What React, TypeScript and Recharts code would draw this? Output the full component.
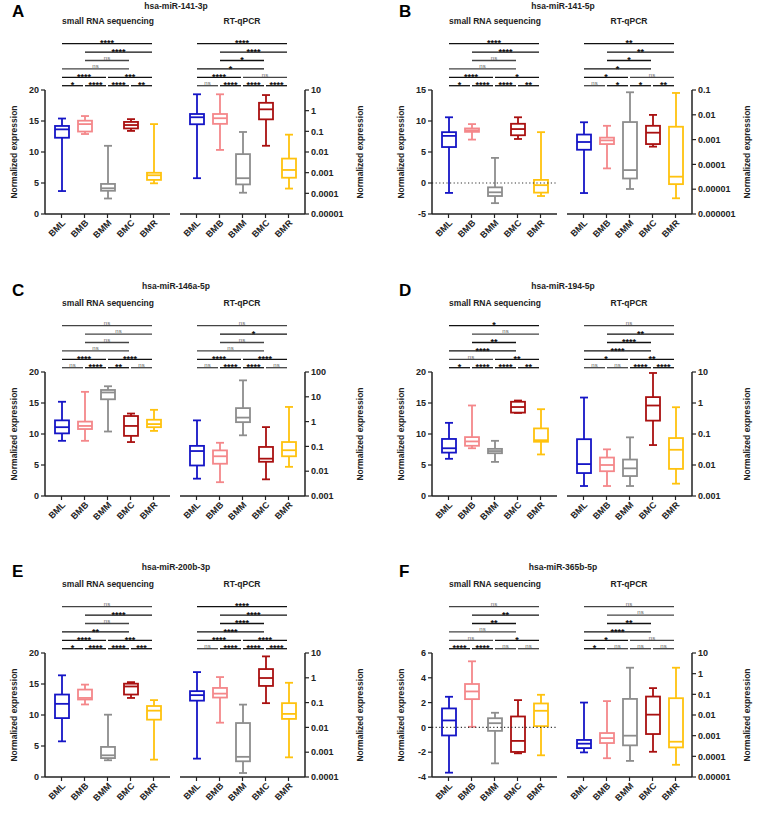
import React from 'react';
import { ComposedChart, Bar, XAxis, YAxis, ReferenceLine } from 'recharts';

const FONT = '"Liberation Sans", Arial, sans-serif';
const INK = '#222';

const categories = ['BML', 'BMB', 'BMM', 'BMC', 'BMR'];
const groupColors = ['#1515C6', '#F4878A', '#8D8D8D', '#A91010', '#FFC20E'];

// box statistics per category: [min, q1, median, q3, max]
const seqA = [[3.7, 12.3, 13.65, 14.2, 15.4], [12.9, 13.3, 14.5, 15.05, 15.8], [2.5, 3.75, 4.15, 4.85, 11.0], [13.4, 13.8, 14.35, 14.85, 15.3], [4.95, 5.5, 6.25, 6.65, 14.5]];
const pcrA = [[0.00054, 0.22, 0.48, 0.69, 6.2], [0.0126, 0.23, 0.43, 0.69, 6.2], [0.000107, 0.00027, 0.00054, 0.0079, 0.093], [0.02, 0.38, 1.16, 2.4, 5.7], [0.00017, 0.00057, 0.00135, 0.0048, 0.069]];
const seqB = [[-1.6, 5.8, 7.6, 8.2, 10.6], [7.0, 8.25, 8.5, 8.8, 9.5], [-3.25, -2.1, -1.5, -0.7, 4.05], [7.1, 7.7, 8.7, 9.55, 10.6], [-2.1, -1.55, -0.35, 0.5, 8.2]];
const pcrB = [[0.000007, 0.00039, 0.0008, 0.0016, 0.005], [0.000069, 0.00066, 0.00093, 0.0012, 0.0036], [0.0000102, 0.000027, 0.000059, 0.0051, 0.081], [0.00052, 0.00066, 0.0019, 0.0036, 0.0099], [0.0000043, 0.000016, 0.000032, 0.0033, 0.076]];
const seqC = [[8.9, 10.1, 11.1, 12.2, 15.2], [8.9, 10.8, 11.3, 12.0, 16.8], [10.4, 15.6, 16.7, 17.1, 17.7], [8.7, 9.7, 11.3, 12.9, 13.3], [10.5, 11.1, 11.6, 12.3, 13.9]];
const pcrC = [[0.005, 0.017, 0.065, 0.105, 1.12], [0.0036, 0.02, 0.04, 0.069, 0.14], [0.28, 0.95, 1.45, 3.5, 46], [0.0047, 0.024, 0.032, 0.095, 0.6], [0.015, 0.04, 0.07, 0.15, 3.9]];
const seqD = [[6.0, 7.0, 7.7, 9.2, 11.8], [7.7, 8.1, 8.8, 9.5, 14.6], [5.5, 6.9, 7.25, 7.6, 8.9], [13.4, 13.45, 14.35, 15.2, 15.4], [6.7, 8.75, 9.0, 10.9, 14.0]];
const pcrD = [[0.0021, 0.0055, 0.0107, 0.068, 1.5], [0.0021, 0.0063, 0.01, 0.0174, 0.032], [0.0021, 0.0044, 0.0078, 0.015, 0.078], [0.044, 0.27, 0.83, 1.55, 9.3], [0.0025, 0.0075, 0.031, 0.074, 0.73]];
const seqE = [[5.75, 9.5, 11.8, 13.3, 16.4], [11.7, 12.5, 12.75, 14.1, 14.9], [2.7, 3.05, 3.5, 4.85, 10.05], [12.75, 13.3, 14.6, 15.05, 15.3], [2.8, 9.25, 10.7, 11.45, 12.4]];
const pcrE = [[0.00055, 0.12, 0.2, 0.29, 1.7], [0.0155, 0.16, 0.23, 0.39, 1.07], [0.000145, 0.00043, 0.00065, 0.015, 0.083], [0.095, 0.47, 0.98, 2.25, 7.3], [0.00062, 0.022, 0.035, 0.095, 0.63]];
const seqF = [[-3.65, -0.65, 0.56, 1.53, 2.47], [0.05, 2.28, 2.9, 3.5, 5.33], [-2.9, -0.28, 0.34, 0.74, 1.18], [-2.09, -1.98, -1.09, 0.88, 2.2], [-2.25, 0.1, 1.34, 1.93, 2.63]];
const pcrF = [[0.000155, 0.00025, 0.00041, 0.00062, 0.04], [0.000081, 0.00044, 0.00076, 0.00134, 0.047], [0.00006, 0.00034, 0.001, 0.06, 1.94], [0.000166, 0.0012, 0.0104, 0.078, 0.2], [0.000039, 0.00027, 0.00051, 0.065, 1.94]];

// axis ticks
const linTicks20 = [0, 5, 10, 15, 20];
const linTicksB = [-5, 0, 5, 10, 15];
const linTicksF = [-4, -2, 0, 2, 4, 6];
const logTicksA = [0.00001, 0.0001, 0.001, 0.01, 0.1, 1, 10];
const logTicksB = [0.000001, 0.00001, 0.0001, 0.001, 0.01, 0.1];
const logTicksC = [0.001, 0.01, 0.1, 1, 10, 100];
const logTicksD = [0.001, 0.01, 0.1, 1, 10];
const logTicksE = [0.0001, 0.001, 0.01, 0.1, 1, 10];

// significance comparisons (pairs of category indices) and bracket rows
const pairs = [[0, 1], [1, 2], [2, 3], [3, 4], [0, 2], [2, 4], [0, 3], [1, 3], [1, 4], [0, 4]];
const pairRows = [0, 0, 0, 0, 1, 1, 2, 3, 4, 5];

const sigSeqA = ['*', '****', '****', '**', '****', '***', 'ns', 'ns', '****', '****'];
const sigPcrA = ['ns', '****', '****', '****', '****', 'ns', '*', '*', '****', '****'];
const sigSeqB = ['*', '****', '****', '**', '****', '*', 'ns', 'ns', '****', '****'];
const sigPcrB = ['ns', '*', '*', '**', '*', 'ns', '*', '*', '**', '**'];
const sigSeqC = ['ns', '****', '**', 'ns', '****', '****', 'ns', 'ns', 'ns', 'ns'];
const sigPcrC = ['ns', '****', '****', 'ns', '****', '****', 'ns', 'ns', '*', 'ns'];
const sigSeqD = ['*', '****', '****', '**', 'ns', '**', '****', '**', 'ns', '*'];
const sigPcrD = ['ns', 'ns', '****', '****', '*', '**', '****', '****', '**', 'ns'];
const sigSeqE = ['*', '****', '****', '***', '****', '***', '**', 'ns', '****', 'ns'];
const sigPcrE = ['ns', '****', '****', '****', '****', '****', '****', '****', '****', '****'];
const sigSeqF = ['****', '****', 'ns', 'ns', 'ns', '*', 'ns', '**', '**', 'ns'];
const sigPcrF = ['*', 'ns', 'ns', 'ns', '*', 'ns', '****', '**', 'ns', 'ns'];

const letters = ['A', 'B', 'C', 'D', 'E', 'F'];
const titles = ['hsa-miR-141-3p', 'hsa-miR-141-5p', 'hsa-miR-146a-5p', 'hsa-miR-194-5p', 'hsa-miR-200b-3p', 'hsa-miR-365b-5p'];
const subTitles = ['small RNA sequencing', 'RT-qPCR'];
const yLabel = 'Normalized expression';

const panels = [
  { seq: seqA, pcr: pcrA, seqDomain: [0, 20], seqTicks: linTicks20, pcrDomain: [0.00001, 10], pcrTicks: logTicksA, sigSeq: sigSeqA, sigPcr: sigPcrA, zero: false, col: 0, top: 90 },
  { seq: seqB, pcr: pcrB, seqDomain: [-5, 15], seqTicks: linTicksB, pcrDomain: [0.000001, 0.1], pcrTicks: logTicksB, sigSeq: sigSeqB, sigPcr: sigPcrB, zero: true, col: 387, top: 90 },
  { seq: seqC, pcr: pcrC, seqDomain: [0, 20], seqTicks: linTicks20, pcrDomain: [0.001, 100], pcrTicks: logTicksC, sigSeq: sigSeqC, sigPcr: sigPcrC, zero: false, col: 0, top: 372 },
  { seq: seqD, pcr: pcrD, seqDomain: [0, 20], seqTicks: linTicks20, pcrDomain: [0.001, 10], pcrTicks: logTicksD, sigSeq: sigSeqD, sigPcr: sigPcrD, zero: false, col: 387, top: 372 },
  { seq: seqE, pcr: pcrE, seqDomain: [0, 20], seqTicks: linTicks20, pcrDomain: [0.0001, 10], pcrTicks: logTicksE, sigSeq: sigSeqE, sigPcr: sigPcrE, zero: false, col: 0, top: 653 },
  { seq: seqF, pcr: pcrF, seqDomain: [-4, 6], seqTicks: linTicksF, pcrDomain: [0.00001, 10], pcrTicks: logTicksA, sigSeq: sigSeqF, sigPcr: sigPcrF, zero: true, col: 387, top: 653 },
];

function buildRows(stats: number[][]) {
  return categories.map((cat, i) => ({
    cat,
    range: [stats[i][0], stats[i][4]],
    min: stats[i][0],
    q1: stats[i][1],
    med: stats[i][2],
    q3: stats[i][3],
    max: stats[i][4],
    color: groupColors[i],
  }));
}

const fmtLog = (v: number) => (v >= 1 ? String(v) : v.toFixed(Math.round(-Math.log10(v))));

const BoxShape = (props: any) => {
  const { x, y, width, height, payload, log } = props;
  if (!payload || x == null || y == null) return null;
  const top = Math.min(y, y + height);
  const bot = Math.max(y, y + height);
  const f = (v: number) => (log ? Math.log10(v) : v);
  const hi = f(payload.max);
  const lo = f(payload.min);
  const py = (v: number) => (hi === lo ? top : top + ((hi - f(v)) / (hi - lo)) * (bot - top));
  const cx = x + width / 2;
  const cap = 4;
  const yq3 = py(payload.q3);
  const yq1 = py(payload.q1);
  const ym = py(payload.med);
  return (
    <g stroke={payload.color} strokeWidth={1.8} fill="none">
      <line x1={cx} x2={cx} y1={top} y2={yq3} />
      <line x1={cx} x2={cx} y1={yq1} y2={bot} />
      <line x1={cx - cap} x2={cx + cap} y1={top} y2={top} />
      <line x1={cx - cap} x2={cx + cap} y1={bot} y2={bot} />
      <rect x={x} y={yq3} width={width} height={Math.max(0.5, yq1 - yq3)} fill="#fff" />
      <line x1={x} x2={x + width} y1={ym} y2={ym} />
    </g>
  );
};

const Bracket = (props: any) => {
  const { x1, x2, y1, row, label } = props;
  if (x1 == null || x2 == null || y1 == null) return null;
  const y = y1 - 4.3 - row * 8.4;
  const isNs = label === 'ns';
  const a = Math.min(x1, x2) + 0.5;
  const b = Math.max(x1, x2) - 1.5;
  return (
    <g>
      <line x1={a} x2={b} y1={y} y2={y} stroke={isNs ? '#444' : '#111'} strokeWidth={1.3} />
      <text
        x={(a + b) / 2}
        y={isNs ? y - 0.8 : y + 2.6}
        textAnchor="middle"
        fontSize={isNs ? 6 : 9}
        fontWeight={isNs ? 400 : 700}
        fill={isNs ? '#666' : '#111'}
        fontFamily={FONT}
      >
        {label}
      </text>
    </g>
  );
};

const tickStyle = { fontSize: 9, fontWeight: 700, fill: INK, fontFamily: FONT };

function SubChart(props: any) {
  const { stats, domain, ticks, log, sig, zero, side, left, top } = props;
  const data = buildRows(stats);
  const isLeft = side === 'left';
  const width = isLeft ? 175 : 192;
  const height = 224;
  const margin = isLeft ? { top: 60, right: 5, bottom: 0, left: 0 } : { top: 60, right: 0, bottom: 0, left: 5 };
  return (
    <div style={{ position: 'absolute', left, top, width, height }}>
      <ComposedChart width={width} height={height} data={data} margin={margin}>
        <XAxis
          dataKey="cat"
          type="category"
          interval={0}
          angle={-45}
          textAnchor="end"
          tickSize={4}
          tickMargin={1}
          height={40}
          padding={{ left: 5, right: 5 }}
          axisLine={{ stroke: INK, strokeWidth: 1.5 }}
          tickLine={{ stroke: INK, strokeWidth: 1.2 }}
          tick={tickStyle}
        />
        <YAxis
          orientation={isLeft ? 'left' : 'right'}
          width={isLeft ? 45 : 62}
          type="number"
          scale={log ? 'log' : 'linear'}
          domain={domain}
          ticks={ticks}
          interval={0}
          allowDataOverflow
          tickFormatter={log ? fmtLog : (v: number) => String(v)}
          tickSize={4}
          tickMargin={2}
          axisLine={{ stroke: INK, strokeWidth: 1.5 }}
          tickLine={{ stroke: INK, strokeWidth: 1.2 }}
          tick={tickStyle}
          label={{
            value: yLabel,
            angle: -90,
            position: isLeft ? 'insideLeft' : 'insideRight',
            offset: isLeft ? 14 : 7,
            fontSize: 8.5,
            fontWeight: 700,
            fill: INK,
            fontFamily: FONT,
            style: { textAnchor: 'middle' },
          }}
        />
        {zero && <ReferenceLine y={0} stroke="#333" strokeWidth={1.2} strokeDasharray="1.2 2.4" />}
        <Bar dataKey="range" barSize={14} isAnimationActive={false} shape={(p: any) => <BoxShape {...p} log={log} />} />
        {pairs.map(([i, j], k) => (
          <ReferenceLine
            key={k}
            segment={[{ x: categories[i], y: domain[1] }, { x: categories[j], y: domain[1] }]}
            ifOverflow="visible"
            shape={(p: any) => <Bracket {...p} row={pairRows[k]} label={sig[k]} />}
          />
        ))}
      </ComposedChart>
    </div>
  );
}

export default function App() {
  return (
    <div style={{ position: 'absolute', left: 0, top: 0, width: 764, height: 816, background: '#fff', overflow: 'hidden' }}>
      <svg width={764} height={816} style={{ position: 'absolute', left: 0, top: 0 }}>
        {panels.map((p, i) => (
          <g key={i} fontFamily={FONT} fill={INK}>
            <text x={p.col + 12} y={Math.max(p.top - 76, 17)} fontSize={17} fontWeight={700} fill="#000">{letters[i]}</text>
            <text x={p.col + 176} y={Math.max(p.top - 83, 9)} fontSize={8.5} fontWeight={700} textAnchor="middle">{titles[i]}</text>
            <text x={p.col + 108} y={p.top - 66} fontSize={8.5} fontWeight={700} textAnchor="middle">{subTitles[0]}</text>
            <text x={p.col + 242} y={p.top - 66} fontSize={8.5} fontWeight={700} textAnchor="middle">{subTitles[1]}</text>
          </g>
        ))}
      </svg>
      {panels.map((p, i) => (
        <React.Fragment key={i}>
          <SubChart side="left" left={p.col} top={p.top - 60} stats={p.seq} domain={p.seqDomain} ticks={p.seqTicks} log={false} sig={p.sigSeq} zero={p.zero} />
          <SubChart side="right" left={p.col + 175} top={p.top - 60} stats={p.pcr} domain={p.pcrDomain} ticks={p.pcrTicks} log={true} sig={p.sigPcr} zero={false} />
        </React.Fragment>
      ))}
    </div>
  );
}
